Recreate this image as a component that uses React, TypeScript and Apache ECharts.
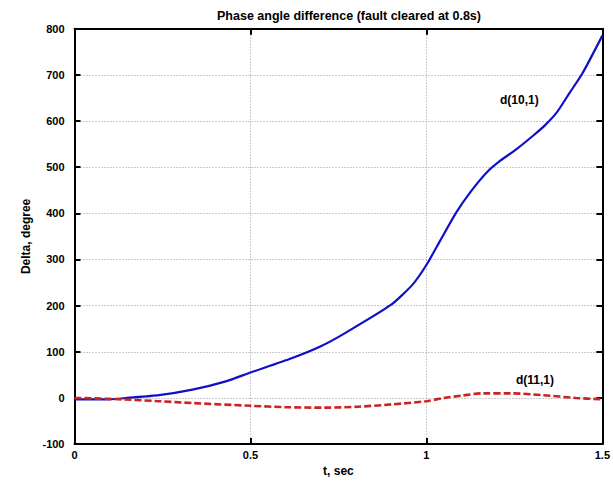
import React, { useEffect, useRef } from "react";
import * as echarts from "echarts";

const titleText = "Phase angle difference (fault cleared at 0.8s)";
const xName = "t, sec";
const yName = "Delta, degree";

const d10t = [0, 0.1, 0.15, 0.24, 0.335, 0.43, 0.5, 0.617, 0.7, 0.77, 0.9, 0.96, 1.0, 1.04, 1.085, 1.125, 1.172, 1.21, 1.256, 1.303, 1.336, 1.37, 1.407, 1.444, 1.5];
const d10v = [-3, -3, 0, 6, 18, 36, 55, 86, 112, 141, 202, 245, 288, 342, 402, 446, 489, 514, 539, 568, 590, 618, 661, 704, 785];

const d11t = [0, 0.1, 0.24, 0.335, 0.5, 0.6, 0.71, 0.805, 0.9, 1.0, 1.05, 1.1, 1.16, 1.24, 1.33, 1.425, 1.5];
const d11v = [0, -2, -7, -11, -17, -20, -21, -19, -14, -7, 0, 5, 10, 10, 6, 0, -3];

const xTicks = { min: 0, max: 1.5, interval: 0.5 };
const yTicks = { min: -100, max: 800, interval: 100 };

const labels = [
  { text: "d(10,1)", x: 500, y: 94 },
  { text: "d(11,1)", x: 516, y: 374 },
];

const FONT = "Liberation Sans, Arial, sans-serif";

export default function App() {
  const ref = useRef<HTMLDivElement>(null);
  useEffect(() => {
    if (!ref.current) return;
    const chart = echarts.init(ref.current, undefined, { renderer: "svg" });
    const d10 = d10t.map((t, i) => [t, d10v[i]]);
    const d11 = d11t.map((t, i) => [t, d11v[i]]);
    const tickStyle = { show: true, inside: true, length: 6, lineStyle: { color: "#000", width: 2 } };
    const axisLine = { show: true, onZero: false, lineStyle: { color: "#000", width: 2 } };
    const gridLine = { show: true, lineStyle: { type: [1, 2], color: "#999", width: 1 } };
    const textStyle = { fontFamily: FONT, fontSize: 11, fontWeight: "bold", color: "#000" };
    chart.setOption({
      animation: false,
      backgroundColor: "#fff",
      title: {
        text: titleText,
        left: 212,
        top: 4,
        textStyle: { ...textStyle, fontSize: 12.5 },
      },
      grid: { left: 74.5, right: 7, top: 28.7, bottom: 34.8, containLabel: false },
      xAxis: [
        {
          type: "value",
          min: xTicks.min,
          max: xTicks.max,
          interval: xTicks.interval,
          name: xName,
          nameLocation: "middle",
          nameGap: 20,
          nameTextStyle: { ...textStyle, fontSize: 12 },
          axisLine,
          axisTick: tickStyle,
          axisLabel: { ...textStyle, margin: 5 },
          splitLine: gridLine,
        },
        {
          type: "value",
          position: "top",
          min: xTicks.min,
          max: xTicks.max,
          interval: xTicks.interval,
          axisLine,
          axisTick: tickStyle,
          axisLabel: { show: false },
          splitLine: { show: false },
        },
      ],
      yAxis: [
        {
          type: "value",
          min: yTicks.min,
          max: yTicks.max,
          interval: yTicks.interval,
          name: yName,
          nameLocation: "middle",
          nameGap: 30,
          nameRotate: 90,
          nameTextStyle: { ...textStyle, fontSize: 12 },
          axisLine,
          axisTick: tickStyle,
          axisLabel: { ...textStyle, margin: 10 },
          splitLine: gridLine,
        },
        {
          type: "value",
          position: "right",
          min: yTicks.min,
          max: yTicks.max,
          interval: yTicks.interval,
          axisLine,
          axisTick: tickStyle,
          axisLabel: { show: false },
          splitLine: { show: false },
        },
      ],
      series: [
        {
          type: "line",
          name: "d(10,1)",
          data: d10,
          xAxisIndex: 0,
          yAxisIndex: 0,
          showSymbol: false,
          smooth: 0.2,
          lineStyle: { color: "#1010c8", width: 2.2 },
          z: 3,
        },
        {
          type: "line",
          name: "d(11,1)",
          data: d11,
          xAxisIndex: 0,
          yAxisIndex: 0,
          showSymbol: false,
          smooth: 0.3,
          lineStyle: { color: "#cc2222", width: 2.6, type: [7, 3] },
          z: 3,
        },
      ],
      graphic: labels.map((l) => ({
        type: "text",
        left: l.x,
        top: l.y,
        style: { text: l.text, font: `bold 12px ${FONT}`, fill: "#000" },
        z: 10,
      })),
    });
    return () => chart.dispose();
  }, []);
  return (
    <div
      ref={ref}
      style={{ position: "absolute", left: 0, top: 0, width: 613, height: 482 }}
    />
  );
}
